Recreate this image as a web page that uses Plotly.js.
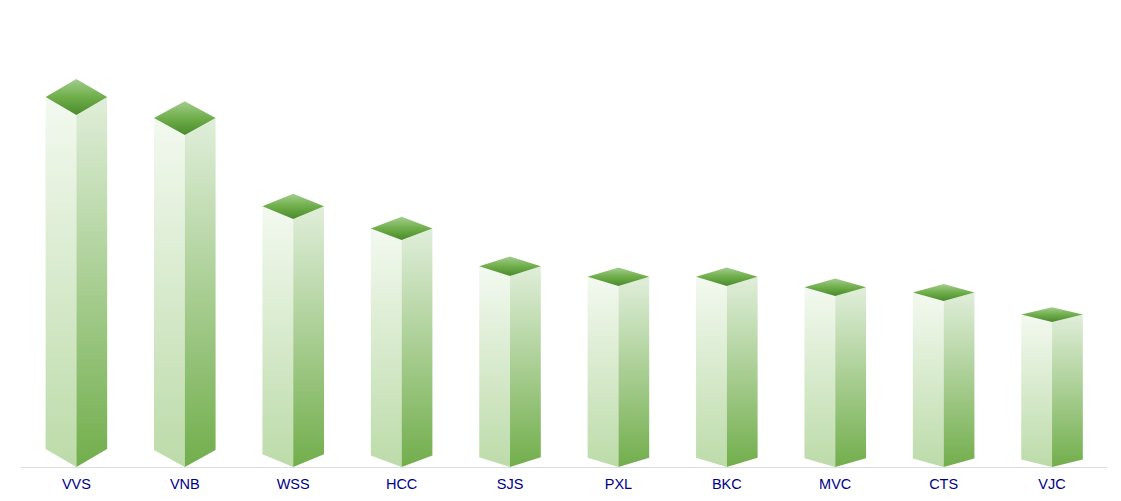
<!DOCTYPE html>
<html><head><meta charset="utf-8">
<script src="https://cdn.plot.ly/plotly-3.0.1.min.js"></script>
<style>html,body{margin:0;padding:0;background:#fff}#c{width:1121px;height:501px}</style>
</head><body><div id="c"></div>
<script>
var categories = ["VVS","VNB","WSS","HCC","SJS","PXL","BKC","MVC","CTS","VJC"];
var values = [35.2,33.2,24.8,22.7,19.1,18.1,18.1,17.1,16.6,14.5];
var depthRatio = 0.051, halfWidth = 0.284;
var leftScale = [[0,"#bcdba9"],[1,"#f3f9f0"]];
var rightScale = [[0,"#72ae4c"],[1,"#e0eeda"]];
var topScale = [[0,"#4b8a2c"],[0.5,"#6fae4a"],[1,"#a3cd8e"]];
function face(xs,ys,scale){
  return {type:"scatter",mode:"lines",x:xs,y:ys,fill:"toself",
    fillgradient:{type:"vertical",colorscale:scale},
    line:{width:0},hoverinfo:"skip",showlegend:false};
}
var traces=[];
categories.forEach(function(c,i){
  var v=values[i], d=v*depthRatio, l=i-halfWidth, r=i+halfWidth;
  traces.push(face([l,i,i,l,l],[v+d,v,0,d,v+d],leftScale));
  traces.push(face([i,r,r,i,i],[v,v+d,d,0,v],rightScale));
  traces.push(face([l,i,r,i,l],[v+d,v,v+d,v+2*d,v+d],topScale));
});
var layout={width:1121,height:501,margin:{l:21,r:14,t:0,b:34,pad:0},
  paper_bgcolor:"#fff",plot_bgcolor:"#fff",showlegend:false,
  xaxis:{type:"linear",range:[-0.511,9.507],tickmode:"array",tickvals:categories.map(function(c,i){return i;}),
    ticktext:categories,showgrid:false,zeroline:false,showline:true,linecolor:"#dddddd",linewidth:1,ticks:"",
    ticklabelstandoff:4,
    tickfont:{family:"Liberation Sans, Arial, sans-serif",size:14.5,color:"#00008b"}},
  yaxis:{range:[0,46.7],visible:false,showgrid:false,zeroline:false}};
Plotly.newPlot("c",traces,layout,{displayModeBar:false,staticPlot:true});
</script></body></html>
